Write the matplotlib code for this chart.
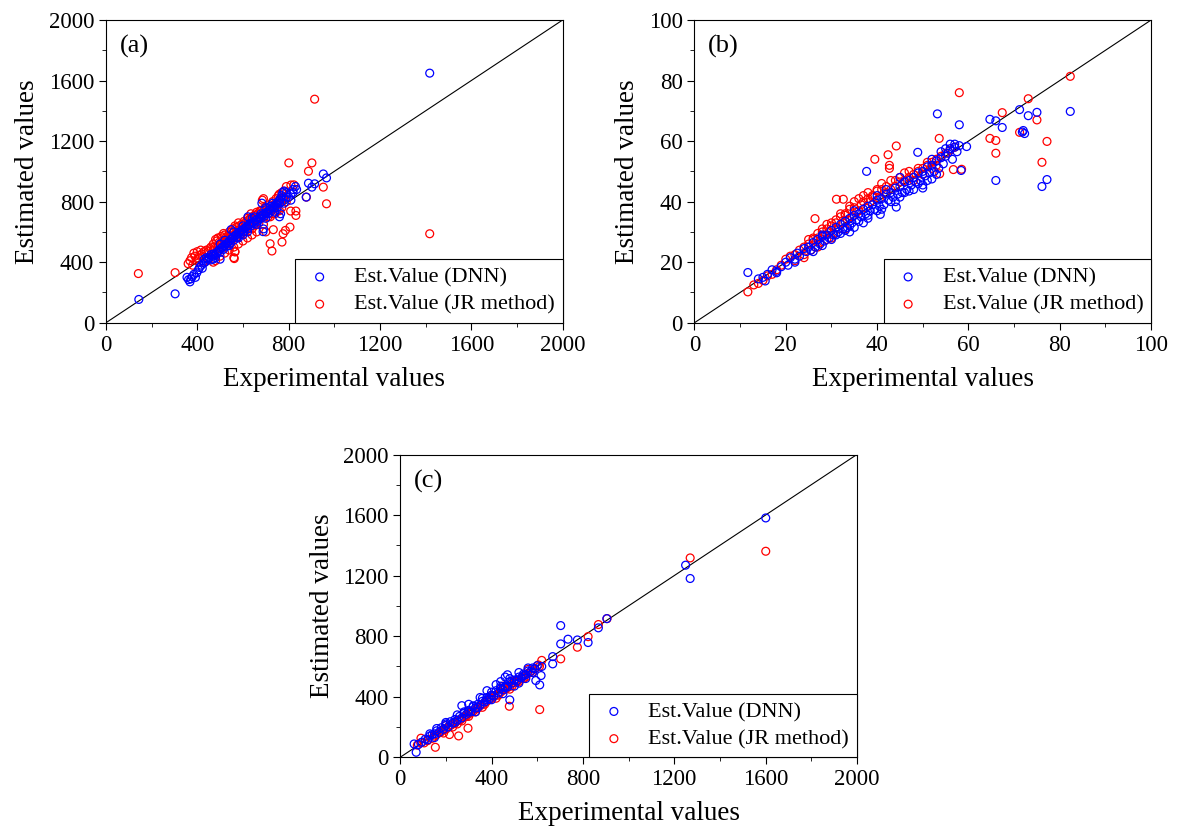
"""
Estimated vs experimental values: DNN vs JR method, three datasets (a), (b), (c).
Saves out.png.
"""

import matplotlib.pyplot as plt

BLUE = "#0000FF"   # DNN estimates
RED = "#FF0000"    # JR method estimates

plt.rcParams.update({
    "font.family": ["Liberation Serif", "DejaVu Serif"],
    "font.size": 16,
    "xtick.direction": "out",
    "ytick.direction": "out",
    "xtick.major.size": 5,
    "ytick.major.size": 5,
    "xtick.minor.size": 3,
    "ytick.minor.size": 3,
    "axes.linewidth": 0.8,
})

# ---------------- panel (a) ----------------
A_DNN_X = [144, 303, 1418, 952, 966, 887, 914, 902, 877,
           355, 362, 368, 372, 378, 385, 392, 398, 405, 410, 418, 422, 430, 438, 445,
           452, 460, 466, 472, 478, 484, 490, 495, 500, 505, 510, 515, 520, 525, 530,
           535, 540, 545, 550, 548, 555, 560, 565, 570, 575, 580, 585, 590, 595, 600,
           605, 610, 615, 620, 622, 625, 630, 635, 640, 645, 650, 655, 660, 665, 670,
           675, 680, 683, 685, 690, 695, 700, 705, 710, 715, 720, 725, 730, 735, 740,
           745, 750, 755, 760, 765, 770, 775, 780, 790, 800, 810, 820, 830, 835,
           688, 690, 760, 765, 500, 480, 470,
           560, 580, 600, 620, 640, 660, 680, 700, 720, 740, 760, 780, 520, 540, 500,
           460, 440, 430, 600, 650, 700, 730, 750, 770, 790, 810, 820]
A_DNN_Y = [154, 191, 1649, 983, 957, 922, 918, 896, 830,
           300, 285, 270, 290, 305, 320, 300, 330, 350, 365, 380, 360, 395, 405, 420,
           430, 415, 440, 455, 445, 460, 470, 480, 465, 490, 500, 485, 510, 520, 505,
           530, 540, 525, 555, 615, 560, 545, 575, 580, 565, 590, 600, 585, 610, 615,
           600, 625, 635, 620, 700, 645, 650, 640, 660, 665, 655, 675, 680, 670, 690,
           700, 690, 790, 710, 715, 705, 725, 730, 720, 745, 750, 740, 760, 770, 760,
           785, 790, 800, 810, 820, 840, 860, 870, 860, 830, 850, 880, 900, 880,
           602, 620, 700, 720, 420, 430, 420,
           600, 560, 640, 600, 690, 650, 720, 690, 770, 730, 790, 790, 545, 510, 520,
           450, 430, 420, 580, 700, 760, 790, 760, 800, 830, 810, 860]

A_JR_X = [914, 1418, 142, 303, 801, 902, 887, 952, 966, 823, 809, 832, 832, 806,
          786, 776, 771, 719, 727, 733, 562, 565, 878,
          360, 368, 375, 380, 385, 390, 395, 400, 405, 410, 415, 420, 425, 430, 440,
          450, 455, 460, 470, 475, 480, 485, 490, 495, 500, 505, 510, 515, 520, 525,
          530, 535, 540, 545, 550, 555, 560, 565, 570, 575, 580, 585, 590, 595, 600,
          605, 610, 615, 620, 625, 630, 635, 640, 645, 650, 655, 660, 665, 670, 675,
          680, 685, 690, 695, 700, 705, 710, 715, 720, 725, 730, 735, 740, 745, 750,
          755, 760, 765, 770, 775, 780, 790, 810, 700, 690, 660, 640, 620, 600, 580,
          560, 540, 520, 500, 480, 470, 560, 565,
          450, 470, 490, 510, 530, 550, 570, 590, 610, 630, 650, 670, 690, 710, 730,
          750, 770, 790, 720, 740, 640, 620, 580, 540, 520, 600, 660, 680, 760, 780]
A_JR_Y = [1477, 588, 325, 331, 1056, 1056, 1001, 896, 786, 911, 738, 738, 709, 632,
          610, 588, 533, 522, 474, 615, 424, 468, 830,
          390, 410, 430, 380, 460, 440, 410, 470, 425, 445, 480, 455, 400, 470, 480,
          470, 490, 500, 520, 500, 550, 540, 560, 530, 520, 570, 560, 590, 580, 560,
          550, 575, 600, 580, 560, 620, 600, 640, 630, 610, 660, 640, 600, 650, 620,
          670, 660, 620, 690, 680, 650, 720, 700, 680, 710, 690, 730, 720, 700, 740,
          710, 810, 820, 760, 730, 760, 700, 780, 770, 740, 800, 760, 720, 820, 780,
          840, 850, 800, 860, 830, 870, 900, 910, 600, 650, 600, 580, 560, 540, 520,
          500, 480, 460, 440, 410, 400, 430, 470,
          420, 480, 500, 540, 520, 600, 560, 620, 600, 680, 640, 660, 740, 740, 720,
          740, 760, 800, 700, 770, 620, 640, 610, 520, 530, 640, 690, 740, 740, 820]

# ---------------- panel (b) ----------------
B_DNN_X = [82.3, 77.2, 76.1, 66.0, 71.2, 73.1, 75.0, 72.0, 72.3, 71.8, 64.7, 66.0,
           67.4, 53.2, 58.0, 58.4, 59.6, 48.9, 37.7, 40.7, 44.2, 11.7,
           14, 15, 15.5, 16, 17, 18, 19, 20, 20.5, 21, 22, 22.5, 23, 24, 24.5, 25,
           25.5, 26, 26.5, 27, 27.5, 28, 28.5, 29, 29.5, 30, 30.5, 31, 31.5, 32, 32.5,
           33, 33.5, 34, 34.5, 35, 35.5, 36, 36.5, 37, 37.5, 38, 38.5, 39, 39.5, 40,
           40.5, 41, 41.5, 42, 42.5, 43, 43.5, 44, 44.5, 45, 45.5, 46, 46.5, 47, 47.5,
           48, 48.5, 49, 49.5, 50, 50.5, 51, 51.5, 52, 52.5, 53, 53.5, 54, 54.5, 55,
           55.5, 56, 56.5, 57, 57.5, 58, 26, 28, 34, 35, 37, 38, 44, 48, 50, 22, 18,
           30, 32, 34, 36, 38, 40, 41, 43, 45, 46, 47, 49, 50, 51, 52, 53, 40, 42,
           35, 45, 52, 54, 56, 57, 55, 28, 31, 33]
B_DNN_Y = [69.8, 47.3, 45.0, 47.0, 70.4, 68.4, 69.5, 63.5, 62.5, 63.0, 67.2, 66.7,
           64.5, 69.0, 65.4, 50.3, 58.2, 56.3, 50.0, 35.8, 38.2, 16.6,
           14.5, 15, 13.8, 16, 17.5, 17, 18.5, 20, 19, 21.5, 21, 23, 22, 24.5, 23.5,
           25, 24, 26.5, 25, 27.5, 26, 28.5, 27, 29, 28, 30.5, 29, 31.5, 30, 32.5,
           31, 33.5, 31.5, 34.5, 33, 35.5, 34, 36, 35, 37.5, 36, 38.5, 37, 39, 37.5,
           40.5, 38.5, 41, 39, 42.5, 40.5, 43, 41.5, 44.5, 42.5, 45, 43, 46.5, 44, 47,
           45.5, 48, 46.5, 49.5, 47, 50, 48.5, 51.5, 49.5, 52, 50, 53.5, 51, 54.5,
           52.5, 55, 56, 57.5, 54, 58, 56.5, 58.5, 23.5, 25.5, 30, 31.5, 33, 34.5,
           40, 44, 44.5, 20, 16.5,
           27.5, 29.5, 32, 33.5, 35.5, 37, 37.5, 40, 41.5, 43, 43.5, 46, 45.5, 47,
           47.5, 49, 42, 44, 37, 48, 54, 56.5, 59, 59, 57.5, 29, 29, 30.5]

B_JR_X = [82.3, 58.0, 73.1, 67.4, 75.0, 71.2, 77.2, 76.1, 64.7, 66.0, 66.0, 53.6,
          44.2, 39.5, 42.4, 42.7, 42.7, 26.4, 31.1, 32.6, 11.7, 56.7, 58.5, 53.7,
          13, 14, 15, 16, 17, 18, 19, 20, 21, 22, 23, 24, 25, 25.5, 26, 26.5, 27,
          27.5, 28, 28.5, 29, 29.5, 30, 30.5, 31, 31.5, 32, 32.5, 33, 33.5, 34, 34.5,
          35, 35.5, 36, 36.5, 37, 37.5, 38, 38.5, 39, 40, 40.5, 41, 42, 43, 44, 45,
          46, 47, 48, 49, 50, 51, 52, 53, 54, 55, 56, 57, 24, 27, 30, 33, 29, 24, 22,
          30, 32, 34, 35, 36, 37, 38, 39, 40, 41, 42, 43, 44, 45, 46, 47, 48, 49, 50,
          51, 52, 53, 28, 29, 26, 25, 27, 31, 33]
B_JR_Y = [81.4, 76.0, 74.0, 69.4, 67.0, 62.9, 59.9, 53.0, 60.9, 60.2, 56.0, 60.9,
          58.4, 54.0, 55.5, 52.0, 51.0, 34.4, 40.8, 40.8, 10.2, 50.6, 50.7, 49.2,
          12.5, 13, 14, 15.5, 16, 17.5, 19, 21, 22, 22.5, 24, 25, 26, 24, 27.5, 25,
          28, 26.5, 30, 29, 31, 30, 32, 29.5, 33, 31, 35, 33, 36, 34, 37.5, 35, 38,
          36.5, 37, 39, 40, 38, 41, 40, 42, 44, 41, 46, 43, 47, 45, 46.5, 47, 48, 49,
          50, 51, 52, 53, 54, 55, 56, 57, 58, 22.5, 25, 28, 31, 27.5, 21.5, 20.5,
          33, 36, 38.5, 40, 41, 42, 43, 41.5, 43.5, 44, 45, 44, 47, 48, 49.5, 50,
          47, 51, 49, 53, 51, 52, 31, 32.5, 28, 27.5, 29.5, 34, 35.5]

# ---------------- panel (c) ----------------
C_DNN_X = [1601, 1250, 1270, 905, 868, 703, 823, 776, 735, 703, 668, 668, 611, 617,
           594, 480, 270, 70, 61,
           80, 95, 110, 120, 130, 140, 150, 160, 170, 180, 190, 200, 210, 220, 230,
           240, 250, 260, 270, 280, 290, 300, 310, 320, 330, 340, 350, 360, 370, 380,
           390, 400, 410, 420, 430, 440, 450, 460, 470, 480, 490, 500, 510, 520, 530,
           540, 550, 560, 570, 580, 590, 600, 420, 440, 460, 470, 380, 300, 350, 500,
           520, 550, 580, 200, 160, 130, 150, 400, 450, 330,
           250, 280, 320, 360, 400, 440, 480, 520, 560, 200, 300, 380, 460, 540, 620,
           240, 340]
C_DNN_Y = [1581, 1269, 1181, 916, 855, 870, 758, 775, 780, 749, 665, 617, 478, 540,
           507, 379, 341, 33, 88,
           85, 100, 120, 115, 140, 150, 155, 175, 165, 195, 185, 210, 200, 235, 225,
           250, 245, 270, 260, 290, 285, 310, 300, 335, 325, 350, 345, 370, 365, 395,
           385, 410, 405, 440, 425, 455, 445, 470, 465, 500, 490, 510, 505, 530, 525,
           550, 545, 570, 565, 590, 585, 605, 480, 500, 530, 545, 440, 350, 395, 470,
           490, 520, 560, 230, 190, 155, 130, 380, 420, 300,
           280, 300, 340, 390, 430, 470, 520, 560, 590, 220, 300, 380, 460, 540, 600,
           230, 330]

C_JR_X = [1601, 1270, 906, 868, 823, 776, 703, 611, 478, 154, 91, 297, 256, 216,
          75, 90, 105, 120, 140, 150, 160, 175, 185, 200, 210, 225, 240, 250, 265,
          280, 290, 305, 320, 335, 350, 365, 380, 395, 410, 425, 440, 455, 470, 485,
          500, 515, 530, 545, 560, 575, 590, 605, 620, 270, 300, 330, 230, 190, 250,
          360, 420, 480, 540, 200, 300, 400, 500,
          260, 290, 340, 370, 400, 430, 460, 490, 520, 550, 580, 610, 180, 220, 310,
          560, 450]
C_JR_Y = [1361, 1317, 916, 877, 797, 727, 650, 315, 337, 66, 126, 192, 141, 150,
          80, 95, 95, 110, 125, 140, 150, 165, 180, 185, 200, 215, 225, 240, 250,
          265, 280, 290, 305, 320, 340, 355, 370, 385, 400, 415, 430, 445, 460, 480,
          495, 505, 520, 540, 555, 570, 585, 610, 640, 240, 270, 300, 200, 160, 220,
          330, 390, 450, 520, 210, 305, 410, 505,
          245, 270, 325, 350, 390, 410, 450, 470, 500, 530, 560, 600, 170, 210, 295,
          580, 470]


def scatter_panel(ax, dnn_x, dnn_y, jr_x, jr_y, vmax, step, tag):
    ax.plot([0, vmax], [0, vmax], color="black", linewidth=0.8, zorder=1)
    jr = ax.scatter(jr_x, jr_y, s=32, facecolors="none", edgecolors=RED,
                    linewidths=0.9, zorder=2)
    dnn = ax.scatter(dnn_x, dnn_y, s=32, facecolors="none", edgecolors=BLUE,
                     linewidths=0.9, zorder=3)

    ax.set_xlim(0, vmax)
    ax.set_ylim(0, vmax)
    ticks = [i * step for i in range(int(vmax / step) + 1)]
    ax.set_xticks(ticks)
    ax.set_yticks(ticks)
    minor = [t + step / 2 for t in ticks[:-1]]
    ax.set_xticks(minor, minor=True)
    ax.set_yticks(minor, minor=True)
    ax.tick_params(which="both", top=False, right=False, labelsize=16.5)

    ax.set_xlabel("Experimental values", fontsize=19.5, labelpad=8)
    ax.set_ylabel("Estimated values", fontsize=19.5, labelpad=6)
    ax.text(0.03, 0.95, tag, transform=ax.transAxes, fontsize=19,
            ha="left", va="top")

    leg = ax.legend([dnn, jr], ["Est.Value (DNN)", "Est.Value (JR method)"],
                    loc="lower right", borderaxespad=0, fancybox=False,
                    framealpha=1, edgecolor="black", fontsize=16,
                    handlelength=1.5, handletextpad=0.8, borderpad=0.35,
                    labelspacing=0.3, scatterpoints=1)
    leg.get_frame().set_linewidth(0.8)


fig = plt.figure(figsize=(11.77, 8.34), dpi=100)
ax_a = fig.add_axes([0.090, 0.613, 0.388, 0.363])
ax_b = fig.add_axes([0.590, 0.613, 0.388, 0.363])
ax_c = fig.add_axes([0.340, 0.092, 0.388, 0.363])

scatter_panel(ax_a, A_DNN_X, A_DNN_Y, A_JR_X, A_JR_Y, 2000, 400, "(a)")
scatter_panel(ax_b, B_DNN_X, B_DNN_Y, B_JR_X, B_JR_Y, 100, 20, "(b)")
scatter_panel(ax_c, C_DNN_X, C_DNN_Y, C_JR_X, C_JR_Y, 2000, 400, "(c)")

fig.savefig("out.png", dpi=100)
plt.close(fig)
